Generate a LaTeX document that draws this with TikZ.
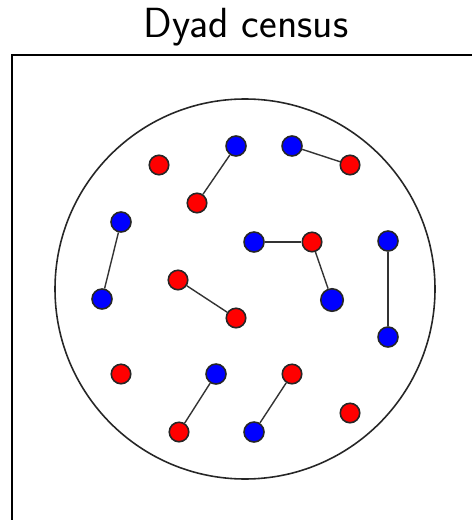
\documentclass[tikz,border=0pt]{standalone}
\usetikzlibrary{positioning}

\begin{document}
\begin{tikzpicture}[x=0.02cm, y=-0.02cm,
    every node/.style={inner sep=0pt},
    title/.style={font=\fontsize{24}{28}\selectfont\sffamily},
    redv/.style={circle, fill=red, draw=black!85, line width=0.9pt, minimum size=0.39cm},
    bluev/.style={circle, fill=blue, draw=black!85, line width=0.9pt, minimum size=0.40cm},
    bigblue/.style={bluev, minimum size=0.45cm},
    tie/.style={draw=black!80, line width=0.8pt}
  ]
    \useasboundingbox (0,0) rectangle (472,520);
    \clip (0,0) rectangle (472,520);

    % title and frame
    \node[title] (head) at (246,27) {Dyad census};
    \draw[line width=1.2pt] (12,55) rectangle (500,560);
    \draw[black!85, line width=0.9pt] (245,289) circle (190);

    % actors
    \node[redv]  (r1)  at (159,165) {};
    \node[bluev] (b1)  at (236,146) {};
    \node[redv]  (r2)  at (197,203) {};
    \node[bluev] (b2)  at (292,146) {};
    \node[redv]  (r3)  at (350,165) {};
    \node[bluev] (b3)  at (121,222) {};
    \node[bluev] (b4)  at (102,299) {};
    \node[bluev] (b5)  at (254,242) {};
    \node[redv]  (r4)  at (312,242) {};
    \node[bigblue] (b6) at (332,300) {};
    \node[bluev] (b7)  at (388,241) {};
    \node[bluev] (b8)  at (388,337) {};
    \node[redv]  (r5)  at (178,280) {};
    \node[redv]  (r6)  at (236,318) {};
    \node[redv]  (r7)  at (121,374) {};
    \node[bluev] (b9)  at (216,374) {};
    \node[redv]  (r8)  at (179,432) {};
    \node[redv]  (r9)  at (292,374) {};
    \node[bluev] (b10) at (254,432) {};
    \node[redv]  (r10) at (350,413) {};

    % ties
    \draw[tie] (b1) -- (r2);
    \draw[tie] (b2) -- (r3);
    \draw[tie] (b3) -- (b4);
    \draw[tie] (b5) -- (r4);
    \draw[tie] (r4) -- (b6);
    \draw[tie] (b7) -- (b8);
    \draw[tie] (r5) -- (r6);
    \draw[tie] (b9) -- (r8);
    \draw[tie] (r9) -- (b10);
\end{tikzpicture}
\end{document}
